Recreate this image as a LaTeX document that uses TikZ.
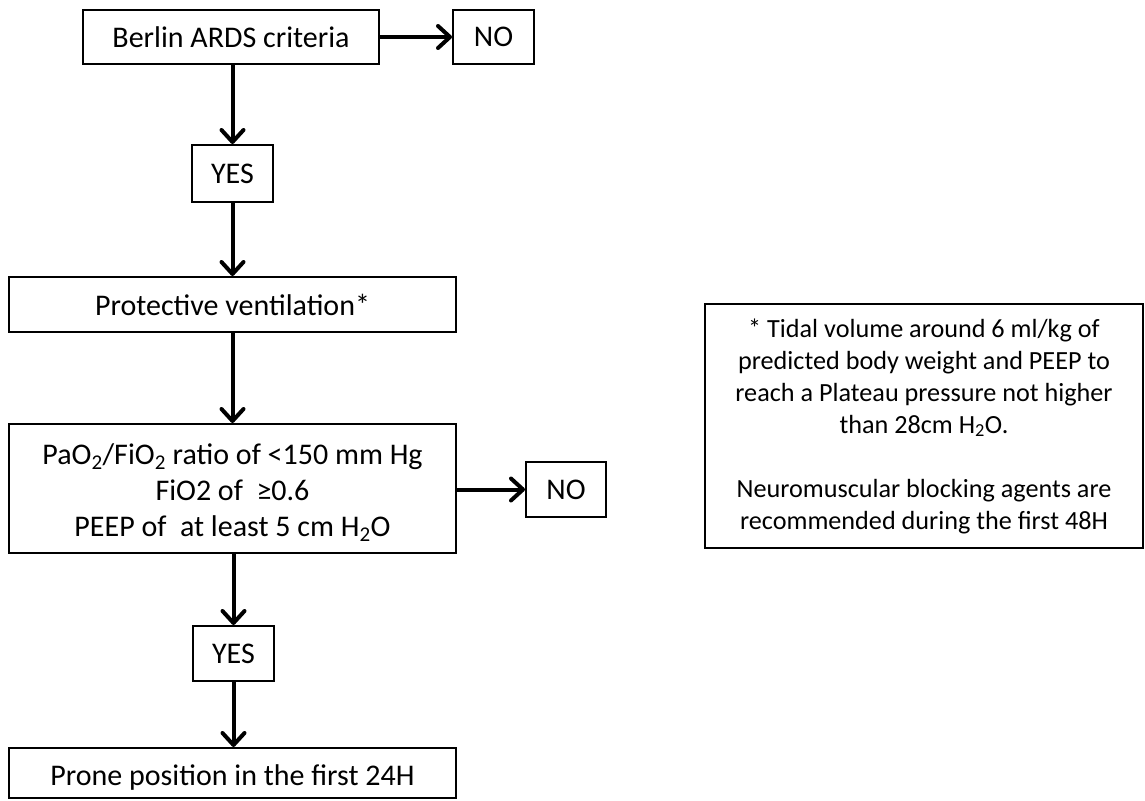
\documentclass[tikz,border=0pt]{standalone}
\usepackage{fontspec}
\setmainfont{Carlito}
\usetikzlibrary{arrows.meta}
\begin{document}
\begin{tikzpicture}[x=1pt,y=-1pt,
  box/.style={draw,line width=2pt,align=center,inner sep=0pt,font=\fontsize{30}{36}\selectfont},
  arr/.style={line width=4pt,-{Straight Barb[length=12pt,width=22pt,line cap=round,line join=round]}}]
\useasboundingbox (0,0) rectangle (1145,800);
\node[box,minimum width=296pt,minimum height=54pt] (berlin) at (231,37) {Berlin ARDS criteria};
\node[box,minimum width=81pt,minimum height=54pt] (no1) at (493.5,37) {NO};
\node[box,minimum width=81pt,minimum height=57pt] (yes1) at (232.5,173.5) {YES};
\node[box,minimum width=447pt,minimum height=55pt] (prot) at (232.5,304.5) {Protective ventilation*};
\node[box,minimum width=447pt,minimum height=129pt,font=\fontsize{30}{36}\selectfont] (crit) at (232.5,488.5)
  {\rule{0pt}{29pt}PaO\textsubscript{2}/FiO\textsubscript{2} ratio of <150 mm Hg\\FiO2 of \ ≥0.6\\PEEP of \ at least 5 cm H\textsubscript{2}O};
\node[box,minimum width=80pt,minimum height=55pt] (no2) at (566,489.5) {NO};
\node[box,minimum width=81pt,minimum height=55pt] (yes2) at (233.5,653.5) {YES};
\node[box,minimum width=447pt,minimum height=50pt,text height=31pt,text depth=6pt] (prone) at (232.5,773) {Prone position in the first 24H};
\node[box,minimum width=438pt,minimum height=244pt,font=\fontsize{26.2}{32}\selectfont] (note) at (924,426)
  {* Tidal volume around 6 ml/kg of\\predicted body weight and PEEP to\\reach a Plateau pressure not higher\\than 28cm H\textsubscript{2}O.\\[32pt]Neuromuscular blocking agents are\\recommended during the first 48H};
\draw[arr] (berlin.east) -- (no1.west);
\draw[arr] (yes1.north |- berlin.south) -- (yes1.north);
\draw[arr] (yes1.south) -- (yes1.south |- prot.north);
\draw[arr] (yes1.south |- prot.south) -- (yes1.south |- crit.north);
\draw[arr] (crit.east |- no2.west) -- (no2.west);
\draw[arr] (yes2.north |- crit.south) -- (yes2.north);
\draw[arr] (yes2.south) -- (yes2.south |- prone.north);
\end{tikzpicture}
\end{document}
